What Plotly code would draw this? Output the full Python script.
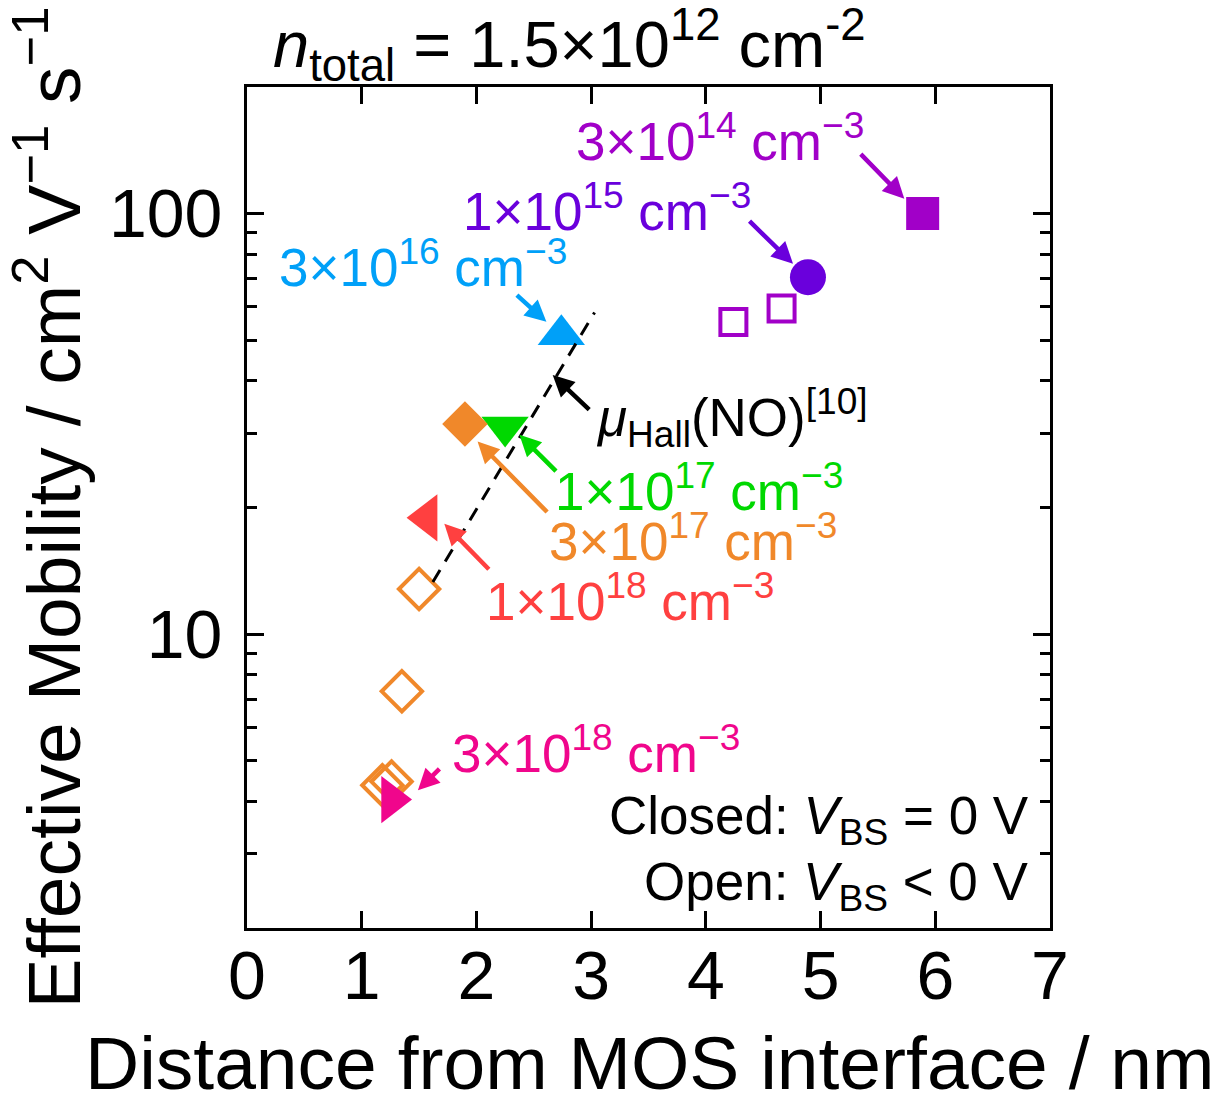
import math
import plotly.graph_objects as go

# ---- data -------------------------------------------------------------
# Closed symbols: V_BS = 0 V, one point per acceptor concentration
doping_labels = [
    "3×10<sup>14</sup> cm<sup>−3</sup>",
    "1×10<sup>15</sup> cm<sup>−3</sup>",
    "3×10<sup>16</sup> cm<sup>−3</sup>",
    "1×10<sup>17</sup> cm<sup>−3</sup>",
    "3×10<sup>17</sup> cm<sup>−3</sup>",
    "1×10<sup>18</sup> cm<sup>−3</sup>",
    "3×10<sup>18</sup> cm<sup>−3</sup>",
]
closed_distance = [5.89, 4.89, 2.74, 2.25, 1.90, 1.57, 1.26]
closed_mobility = [100.0, 70.6, 51.5, 31.1, 31.6, 18.9, 4.04]

# Open symbols: V_BS < 0 V
open_low_distance = [4.24, 4.66]          # 3×10^14 cm^-3 sample
open_low_mobility = [55.2, 59.5]
open_high_distance = [1.50, 1.35, 1.26, 1.18]   # 3×10^17 cm^-3 sample
open_high_mobility = [12.8, 7.31, 4.46, 4.37]

# Hall mobility reference trend (NO-annealed)
hall_distance = [1.62, 3.03]
hall_mobility = [13.3, 58.2]

x_ticks = [0, 1, 2, 3, 4, 5, 6, 7]
y_ticks = [10, 100]
y_tick_text = ["10", "100"]

# ---- style ------------------------------------------------------------
colors = ["#A100C8", "#6A00DC", "#00A0F8", "#00D800", "#F0882A", "#FF4040", "#F0068C"]
symbols = ["square", "circle", "triangle-up", "triangle-down", "diamond",
           "triangle-left", "triangle-right"]
sizes = [33, 36, 41, 41, 35, 41, 41]
FONT = "Liberation Sans, Arial, sans-serif"

fig = go.Figure()

fig.add_trace(go.Scatter(
    x=open_low_distance, y=open_low_mobility, mode="markers",
    marker=dict(symbol="square-open", size=26, color=colors[0],
                line=dict(width=4, color=colors[0])),
    showlegend=False))
fig.add_trace(go.Scatter(
    x=open_high_distance, y=open_high_mobility, mode="markers",
    marker=dict(symbol="diamond-open", size=31, color=colors[4],
                line=dict(width=4, color=colors[4])),
    showlegend=False))

for xd, yd, c, s, sz in zip(closed_distance, closed_mobility, colors, symbols, sizes):
    fig.add_trace(go.Scatter(
        x=[xd], y=[yd], mode="markers",
        marker=dict(symbol=s, size=sz, color=c, line=dict(width=0)),
        showlegend=False))

fig.add_trace(go.Scatter(
    x=hall_distance, y=hall_mobility, mode="lines",
    line=dict(color="black", width=3, dash="14px,10px"),
    showlegend=False))

# ---- labels with arrows ----------------------------------------------
# head_x, head_y, tail_dx, tail_dy (px), text_x, text_y, xanchor
label_specs = [
    (5.73, 108.5, -45, -46, 5.40, 151.6, "right"),
    (4.76, 76.0, -45, -44, 4.41, 103.6, "right"),
    (2.61, 55.3, -31, -28, 0.26, 76.1, "left"),
    (2.375, 29.8, 38, 38, 5.21, 22.3, "right"),
    (2.01, 28.7, 71, 72, 5.16, 16.98, "right"),
    (1.72, 18.3, 46, 47, 4.61, 12.2, "right"),
    (1.49, 4.25, 23, -23, 1.77, 5.31, "left"),
]

ARROW = dict(showarrow=True, axref="pixel", ayref="pixel",
             arrowhead=2, arrowsize=0.95, arrowwidth=4.5, standoff=0)

annotations = []
for (hx, hy, tdx, tdy, tx, ty, anc), txt, c in zip(label_specs, doping_labels, colors):
    annotations.append(dict(
        x=hx, y=math.log10(hy), xref="x", yref="y", text="",
        ax=tdx, ay=tdy, arrowcolor=c, **ARROW))
    annotations.append(dict(
        x=tx, y=math.log10(ty), xref="x", yref="y", text=txt,
        showarrow=False, xanchor=anc, yanchor="middle",
        font=dict(family=FONT, size=53, color=c)))

# Hall mobility label
annotations.append(dict(
    x=2.665, y=math.log10(41.3), xref="x", yref="y", text="",
    ax=38, ay=36, arrowcolor="black", **ARROW))
annotations.append(dict(
    x=5.43, y=math.log10(32.7), xref="x", yref="y",
    text="<i>μ</i><sub>Hall</sub>(NO)<sup>[10]</sup>",
    showarrow=False, xanchor="right", yanchor="middle",
    font=dict(family=FONT, size=53, color="black")))

# bias condition note
annotations.append(dict(
    x=6.83, y=math.log10(3.62), xref="x", yref="y",
    text="Closed: <i>V</i><sub>BS</sub> = 0 V",
    showarrow=False, xanchor="right", yanchor="middle",
    font=dict(family=FONT, size=53, color="black")))
annotations.append(dict(
    x=6.83, y=math.log10(2.52), xref="x", yref="y",
    text="Open: <i>V</i><sub>BS</sub> < 0 V",
    showarrow=False, xanchor="right", yanchor="middle",
    font=dict(family=FONT, size=53, color="black")))

# carrier density headline
annotations.append(dict(
    x=0.401, y=1.0, xref="paper", yref="paper", yshift=42,
    text="<i>n</i><sub>total</sub> = 1.5×10<sup>12</sup> cm<sup>-2</sup>",
    showarrow=False, xanchor="center", yanchor="middle",
    font=dict(family=FONT, size=65, color="black")))

# x-axis title, placed just below the tick labels
annotations.append(dict(
    x=0.502, y=0.0, xref="paper", yref="paper", yshift=-135,
    text="Distance from MOS interface / nm",
    showarrow=False, xanchor="center", yanchor="middle",
    font=dict(family=FONT, size=75, color="black")))

minor_vals = [v * m for m in (1, 10) for v in range(2, 10)]
minor_vals = [v for v in minor_vals if 2 < v < 200]

fig.update_layout(
    width=1218, height=1097,
    margin=dict(l=247, r=168, t=87, b=169),
    paper_bgcolor="white", plot_bgcolor="white",
    font=dict(family=FONT, color="black"),
    annotations=annotations,
    showlegend=False,
)

fig.update_xaxes(
    range=[0, 7], tickvals=x_ticks, ticks="inside", ticklen=17, tickwidth=3,
    tickcolor="black", showline=True, linewidth=3, linecolor="black",
    mirror="ticks", showgrid=False, zeroline=False, automargin=False,
    tickfont=dict(family=FONT, size=68), ticklabelstandoff=-14,
)
fig.update_yaxes(
    type="log", range=[math.log10(2), math.log10(200)],
    tickvals=y_ticks, ticktext=y_tick_text, ticks="inside", ticklen=17,
    tickwidth=3, tickcolor="black", showline=True, linewidth=3,
    linecolor="black", mirror="ticks", showgrid=False, zeroline=False,
    automargin=False,
    tickfont=dict(family=FONT, size=68), ticklabelstandoff=8,
    minor=dict(tickvals=minor_vals, ticks="inside", ticklen=10, tickwidth=3,
               tickcolor="black", showgrid=False),
    title=dict(text="Effective Mobility / cm<sup>2</sup> V<sup>−1</sup> s<sup>−1</sup>",
               font=dict(family=FONT, size=75), standoff=12),
)

fig.write_html("out.html")
